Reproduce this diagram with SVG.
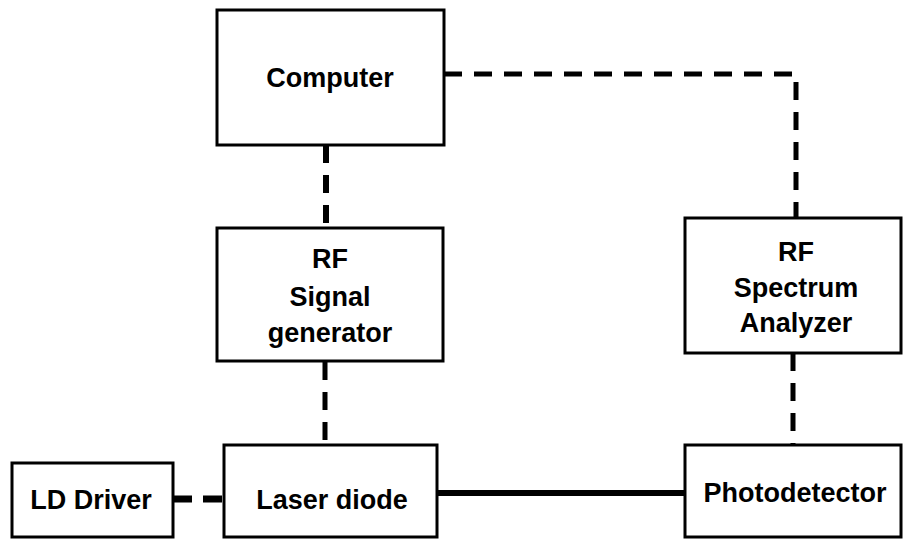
<svg xmlns="http://www.w3.org/2000/svg" width="903" height="540" viewBox="0 0 903 540">
  <style>
    .box { fill: #ffffff; stroke: #000000; stroke-width: 3; }
    .lbl { font-family: "Liberation Sans", Arial, sans-serif; font-weight: bold; font-size: 27px; fill: #000000; text-anchor: middle; }
    .dash { fill: none; stroke: #000000; stroke-width: 5; stroke-dasharray: 18 12; }
    .solid { fill: none; stroke: #000000; stroke-width: 6; }
  </style>
  <rect width="903" height="540" fill="#ffffff"/>

  <!-- connectors -->
  <g id="connectors">
    <path class="dash" d="M444 74 H796 V218"/>
    <path class="dash" d="M326 145 V228" style="stroke-width:6"/>
    <path class="dash" d="M325 362 V445"/>
    <path class="dash" d="M793 353 V445"/>
    <path class="dash" d="M173 499 H224" style="stroke-width:7; stroke-dasharray:19 11"/>
    <path class="solid" d="M437 493 H685"/>
  </g>

  <g id="computer">
    <rect class="box" x="217" y="10" width="227" height="135"/>
    <text class="lbl" x="330" y="87">Computer</text>
  </g>

  <g id="rf-signal-generator">
    <rect class="box" x="217" y="228" width="226" height="133"/>
    <text class="lbl" x="330" y="268">RF</text>
    <text class="lbl" x="330" y="306">Signal</text>
    <text class="lbl" x="330" y="342">generator</text>
  </g>

  <g id="rf-spectrum-analyzer">
    <rect class="box" x="685" y="218" width="216" height="135"/>
    <text class="lbl" x="796" y="261">RF</text>
    <text class="lbl" x="796" y="297">Spectrum</text>
    <text class="lbl" x="796" y="332">Analyzer</text>
  </g>

  <g id="ld-driver">
    <rect class="box" x="12" y="463" width="161" height="74"/>
    <text class="lbl" x="91" y="509">LD Driver</text>
  </g>

  <g id="laser-diode">
    <rect class="box" x="224" y="445" width="213" height="92"/>
    <text class="lbl" x="332" y="509">Laser diode</text>
  </g>

  <g id="photodetector">
    <rect class="box" x="685" y="445" width="216" height="92"/>
    <text class="lbl" x="795" y="502">Photodetector</text>
  </g>
</svg>
